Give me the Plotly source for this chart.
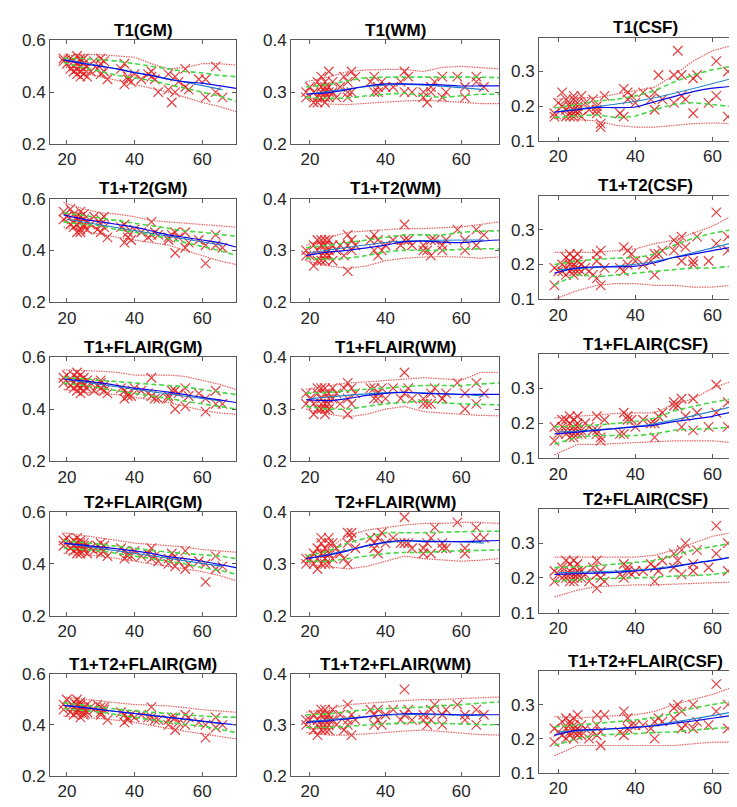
import plotly.graph_objects as go

# ---------------- data ----------------
AGES = [19, 19, 20, 21, 21, 22, 22, 22, 23, 23,
        23, 23, 24, 24, 24, 24, 24, 25, 25, 25,
        25, 26, 26, 27, 28, 29, 30, 30, 30, 31,
        31, 32, 36, 37, 37, 38, 38, 39, 40, 42,
        44, 45, 45, 46, 47, 50, 50, 51, 52, 52,
        53, 55, 55, 56, 59, 61, 61, 64, 64, 66]
GRID = [19, 25, 30, 35, 40, 45, 50, 55, 60, 65, 70]
FIT_X = [20, 43, 66]

TITLES = ["T1(GM)", "T1(WM)", "T1(CSF)",
          "T1+T2(GM)", "T1+T2(WM)", "T1+T2(CSF)",
          "T1+FLAIR(GM)", "T1+FLAIR(WM)", "T1+FLAIR(CSF)",
          "T2+FLAIR(GM)", "T2+FLAIR(WM)", "T2+FLAIR(CSF)",
          "T1+T2+FLAIR(GM)", "T1+T2+FLAIR(WM)", "T1+T2+FLAIR(CSF)"]

T1_GM = dict(
    pts=[0.53, 0.52, 0.51, 0.49, 0.53, 0.48, 0.50, 0.52, 0.47, 0.54,
         0.51, 0.49, 0.53, 0.46, 0.50, 0.52, 0.48, 0.47, 0.51, 0.49,
         0.53, 0.46, 0.50, 0.48, 0.52, 0.49, 0.47, 0.51, 0.53, 0.52,
         0.48, 0.45, 0.49, 0.43, 0.51, 0.46, 0.45, 0.44, 0.47, 0.45,
         0.47, 0.46, 0.48, 0.45, 0.40, 0.41, 0.47, 0.36, 0.40, 0.46,
         0.44, 0.42, 0.49, 0.41, 0.45, 0.38, 0.45, 0.40, 0.50, 0.38],
    mean=[.525, .51, .50, .49, .475, .465, .45, .44, .435, .425, .415],
    fit=[.525, .47, .41],
    gu=[.53, .53, .525, .52, .51, .50, .49, .48, .475, .465, .46],
    gl=[.515, .495, .48, .465, .455, .445, .43, .415, .40, .385, .365],
    ru=[.54, .545, .545, .54, .535, .51, .49, .495, .51, .51, .505],
    rl=[.50, .475, .46, .445, .43, .415, .40, .38, .36, .345, .325])

T1_WM = dict(
    pts=[0.30, 0.29, 0.31, 0.28, 0.30, 0.29, 0.32, 0.28, 0.31, 0.30,
         0.29, 0.33, 0.28, 0.31, 0.30, 0.32, 0.29, 0.34, 0.30, 0.31,
         0.29, 0.32, 0.30, 0.29, 0.31, 0.33, 0.29, 0.32, 0.30, 0.34,
         0.30, 0.33, 0.32, 0.30, 0.33, 0.31, 0.30, 0.32, 0.31, 0.31,
         0.32, 0.34, 0.30, 0.33, 0.30, 0.30, 0.29, 0.28, 0.31, 0.30,
         0.32, 0.33, 0.29, 0.30, 0.33, 0.31, 0.29, 0.32, 0.33, 0.31],
    mean=[.296, .299, .305, .312, .316, .316, .315, .314, .312, .312, .312],
    fit=[.297, .315, .305],
    gu=[.31, .315, .322, .328, .329, .329, .329, .329, .329, .329, .328],
    gl=[.29, .288, .289, .293, .296, .298, .293, .290, .293, .296, .296],
    ru=[.32, .33, .34, .343, .344, .344, .34, .348, .350, .348, .345],
    rl=[.29, .277, .276, .279, .281, .283, .284, .283, .280, .278, .278])

T1_CSF = dict(
    pts=[0.18, 0.17, 0.21, 0.20, 0.24, 0.19, 0.17, 0.22, 0.18, 0.21,
         0.17, 0.20, 0.19, 0.22, 0.18, 0.23, 0.17, 0.21, 0.19, 0.18,
         0.20, 0.23, 0.17, 0.21, 0.19, 0.22, 0.20, 0.18, 0.19, 0.14,
         0.15, 0.23, 0.18, 0.25, 0.17, 0.24, 0.22, 0.23, 0.21, 0.24,
         0.22, 0.19, 0.24, 0.29, 0.22, 0.29, 0.21, 0.36, 0.23, 0.29,
         0.22, 0.28, 0.18, 0.29, 0.21, 0.33, 0.23, 0.17, 0.30, 0.31],
    mean=[.183, .19, .197, .196, .198, .213, .228, .242, .252, .258, .273],
    fit=[.185, .22, .283],
    gu=[.195, .205, .215, .22, .23, .245, .27, .29, .305, .315, .325],
    gl=[.168, .172, .175, .168, .172, .19, .205, .21, .205, .20, .21],
    ru=[.22, .225, .225, .235, .245, .255, .29, .33, .36, .375, .385],
    rl=[.165, .16, .158, .145, .14, .14, .145, .15, .152, .15, .148])

T1T2_GM = dict(
    pts=[0.55, 0.52, 0.53, 0.50, 0.56, 0.51, 0.49, 0.54, 0.47, 0.53,
         0.50, 0.52, 0.55, 0.48, 0.51, 0.47, 0.53, 0.49, 0.52, 0.50,
         0.54, 0.48, 0.51, 0.50, 0.53, 0.48, 0.52, 0.47, 0.50, 0.53,
         0.49, 0.45, 0.49, 0.43, 0.50, 0.45, 0.47, 0.44, 0.48, 0.47,
         0.45, 0.51, 0.46, 0.47, 0.46, 0.44, 0.45, 0.46, 0.39, 0.47,
         0.45, 0.41, 0.47, 0.43, 0.44, 0.35, 0.42, 0.46, 0.42, 0.41],
    mean=[.537, .52, .51, .50, .49, .475, .46, .45, .44, .43, .413],
    fit=[.52, .47, .42],
    gu=[.545, .535, .525, .515, .505, .495, .485, .475, .47, .462, .455],
    gl=[.51, .50, .495, .48, .47, .46, .445, .43, .415, .40, .38],
    ru=[.585, .56, .545, .54, .53, .515, .51, .505, .50, .495, .49],
    rl=[.49, .475, .46, .45, .44, .43, .42, .40, .38, .36, .345])

T1T2_WM = dict(
    pts=[0.30, 0.29, 0.29, 0.27, 0.31, 0.28, 0.30, 0.32, 0.29, 0.31,
         0.28, 0.32, 0.29, 0.30, 0.28, 0.32, 0.31, 0.29, 0.32, 0.30,
         0.29, 0.31, 0.28, 0.30, 0.31, 0.29, 0.26, 0.31, 0.33, 0.32,
         0.30, 0.31, 0.32, 0.30, 0.33, 0.29, 0.32, 0.30, 0.31, 0.32,
         0.31, 0.35, 0.32, 0.32, 0.31, 0.30, 0.31, 0.30, 0.29, 0.32,
         0.32, 0.31, 0.30, 0.32, 0.34, 0.30, 0.32, 0.34, 0.31, 0.33],
    mean=[.29, .297, .30, .305, .31, .317, .318, .316, .315, .318, .32],
    fit=[.295, .317, .32],
    gu=[.305, .31, .315, .32, .325, .33, .33, .33, .335, .337, .338],
    gl=[.285, .283, .285, .29, .297, .30, .30, .30, .302, .303, .303],
    ru=[.31, .325, .335, .338, .34, .342, .342, .344, .345, .35, .355],
    rl=[.28, .27, .265, .27, .28, .285, .287, .288, .287, .285, .287])

T1T2_CSF = dict(
    pts=[0.19, 0.14, 0.18, 0.20, 0.18, 0.22, 0.17, 0.19, 0.21, 0.18,
         0.23, 0.20, 0.19, 0.17, 0.22, 0.18, 0.20, 0.23, 0.19, 0.18,
         0.21, 0.20, 0.18, 0.19, 0.18, 0.17, 0.23, 0.16, 0.21, 0.24,
         0.14, 0.19, 0.19, 0.25, 0.18, 0.24, 0.20, 0.23, 0.21, 0.20,
         0.21, 0.17, 0.23, 0.23, 0.24, 0.27, 0.24, 0.26, 0.21, 0.28,
         0.25, 0.21, 0.20, 0.28, 0.21, 0.35, 0.26, 0.24, 0.28, 0.21],
    mean=[.175, .19, .193, .193, .195, .205, .22, .23, .24, .25, .262],
    fit=[.185, .205, .265],
    gu=[.20, .21, .215, .218, .22, .23, .255, .275, .29, .30, .31],
    gl=[.14, .17, .165, .17, .175, .18, .185, .19, .19, .195, .20],
    ru=[.235, .235, .235, .24, .245, .26, .27, .29, .31, .34, .36],
    rl=[.10, .125, .14, .145, .145, .14, .14, .135, .135, .14, .135])

T1FL_GM = dict(
    pts=[0.52, 0.50, 0.53, 0.49, 0.51, 0.53, 0.48, 0.50, 0.52, 0.47,
         0.54, 0.49, 0.51, 0.46, 0.50, 0.53, 0.48, 0.52, 0.47, 0.50,
         0.49, 0.51, 0.48, 0.50, 0.47, 0.49, 0.51, 0.50, 0.48, 0.49,
         0.47, 0.46, 0.48, 0.44, 0.47, 0.45, 0.46, 0.45, 0.48, 0.47,
         0.46, 0.52, 0.45, 0.44, 0.44, 0.44, 0.45, 0.47, 0.40, 0.47,
         0.46, 0.41, 0.48, 0.45, 0.46, 0.39, 0.44, 0.42, 0.47, 0.42],
    mean=[.515, .508, .50, .49, .48, .473, .465, .455, .445, .435, .425],
    fit=[.512, .47, .43],
    gu=[.522, .515, .51, .505, .50, .495, .49, .485, .475, .465, .455],
    gl=[.50, .49, .48, .47, .46, .45, .44, .43, .42, .41, .40],
    ru=[.55, .548, .545, .54, .53, .53, .53, .525, .51, .495, .475],
    rl=[.475, .465, .46, .455, .445, .435, .425, .41, .395, .385, .38])

T1FL_WM = dict(
    pts=[0.33, 0.31, 0.32, 0.29, 0.31, 0.33, 0.30, 0.34, 0.31, 0.32,
         0.30, 0.34, 0.33, 0.30, 0.31, 0.29, 0.34, 0.32, 0.30, 0.33,
         0.31, 0.34, 0.32, 0.33, 0.31, 0.34, 0.29, 0.35, 0.32, 0.34,
         0.31, 0.33, 0.34, 0.32, 0.34, 0.33, 0.32, 0.34, 0.32, 0.34,
         0.32, 0.37, 0.33, 0.34, 0.32, 0.31, 0.32, 0.31, 0.33, 0.31,
         0.34, 0.32, 0.32, 0.33, 0.35, 0.30, 0.33, 0.35, 0.31, 0.33],
    mean=[.318, .316, .32, .326, .33, .332, .33, .329, .328, .328, .328],
    fit=[.32, .332, .325],
    gu=[.33, .332, .335, .338, .34, .343, .345, .345, .345, .348, .35],
    gl=[.305, .30, .30, .305, .31, .313, .315, .312, .31, .309, .308],
    ru=[.338, .345, .35, .352, .355, .358, .36, .358, .355, .37, .37],
    rl=[.30, .29, .285, .29, .30, .305, .295, .292, .29, .288, .287])

T1FL_CSF = dict(
    pts=[0.19, 0.15, 0.17, 0.21, 0.19, 0.17, 0.21, 0.18, 0.16, 0.20,
         0.18, 0.22, 0.17, 0.19, 0.16, 0.21, 0.18, 0.17, 0.20, 0.22,
         0.19, 0.18, 0.17, 0.20, 0.19, 0.18, 0.22, 0.17, 0.18, 0.15,
         0.16, 0.21, 0.17, 0.23, 0.17, 0.21, 0.22, 0.21, 0.19, 0.21,
         0.20, 0.16, 0.20, 0.22, 0.23, 0.25, 0.26, 0.25, 0.19, 0.27,
         0.22, 0.18, 0.27, 0.23, 0.19, 0.31, 0.23, 0.19, 0.26, 0.25],
    mean=[.17, .175, .18, .185, .19, .195, .205, .212, .22, .232, .245],
    fit=[.175, .195, .25],
    gu=[.19, .192, .195, .20, .205, .215, .235, .248, .26, .27, .28],
    gl=[.14, .16, .165, .165, .165, .17, .18, .183, .185, .19, .20],
    ru=[.215, .22, .225, .228, .23, .23, .255, .27, .30, .32, .325],
    rl=[.11, .14, .14, .143, .145, .148, .15, .15, .15, .145, .16])

T2FL_GM = dict(
    pts=[0.49, 0.47, 0.50, 0.46, 0.48, 0.45, 0.49, 0.47, 0.44, 0.48,
         0.46, 0.50, 0.47, 0.45, 0.48, 0.44, 0.49, 0.46, 0.47, 0.45,
         0.48, 0.44, 0.47, 0.46, 0.45, 0.47, 0.44, 0.46, 0.48, 0.45,
         0.47, 0.43, 0.46, 0.42, 0.45, 0.43, 0.44, 0.43, 0.45, 0.43,
         0.44, 0.46, 0.42, 0.43, 0.41, 0.42, 0.40, 0.44, 0.39, 0.43,
         0.41, 0.38, 0.45, 0.40, 0.41, 0.33, 0.40, 0.38, 0.43, 0.39],
    mean=[.48, .472, .465, .458, .45, .44, .428, .42, .41, .398, .385],
    fit=[.478, .435, .39],
    gu=[.49, .482, .475, .468, .46, .452, .445, .44, .435, .43, .42],
    gl=[.46, .455, .45, .44, .43, .42, .41, .40, .385, .375, .36],
    ru=[.52, .51, .50, .49, .48, .475, .47, .465, .455, .45, .445],
    rl=[.44, .435, .43, .42, .41, .40, .39, .38, .37, .355, .335])

T2FL_WM = dict(
    pts=[0.31, 0.30, 0.31, 0.32, 0.30, 0.33, 0.31, 0.29, 0.32, 0.34,
         0.30, 0.35, 0.31, 0.33, 0.30, 0.32, 0.31, 0.34, 0.30, 0.35,
         0.32, 0.31, 0.34, 0.33, 0.32, 0.31, 0.36, 0.34, 0.30, 0.36,
         0.35, 0.33, 0.35, 0.33, 0.34, 0.35, 0.32, 0.36, 0.34, 0.35,
         0.34, 0.39, 0.34, 0.34, 0.33, 0.33, 0.32, 0.34, 0.35, 0.32,
         0.37, 0.33, 0.34, 0.33, 0.38, 0.33, 0.32, 0.37, 0.35, 0.35],
    mean=[.31, .317, .325, .335, .342, .345, .343, .343, .343, .344, .345],
    fit=[.31, .343, .34],
    gu=[.315, .325, .34, .35, .36, .36, .36, .361, .362, .363, .363],
    gl=[.305, .305, .31, .315, .32, .322, .322, .324, .325, .326, .327],
    ru=[.315, .33, .355, .365, .37, .375, .378, .378, .38, .38, .378],
    rl=[.30, .295, .29, .295, .305, .315, .31, .308, .305, .307, .31])

T2FL_CSF = dict(
    pts=[0.22, 0.19, 0.21, 0.20, 0.23, 0.21, 0.25, 0.20, 0.22, 0.19,
         0.24, 0.21, 0.20, 0.23, 0.21, 0.19, 0.25, 0.22, 0.20, 0.21,
         0.24, 0.20, 0.22, 0.21, 0.19, 0.23, 0.25, 0.17, 0.21, 0.20,
         0.22, 0.19, 0.21, 0.24, 0.20, 0.23, 0.22, 0.21, 0.22, 0.22,
         0.24, 0.19, 0.23, 0.22, 0.25, 0.27, 0.23, 0.25, 0.28, 0.21,
         0.30, 0.24, 0.22, 0.28, 0.23, 0.35, 0.27, 0.22, 0.30, 0.27],
    mean=[.21, .212, .214, .216, .22, .225, .232, .242, .25, .26, .27],
    fit=[.215, .225, .262],
    gu=[.23, .232, .235, .24, .245, .25, .265, .28, .29, .30, .31],
    gl=[.19, .195, .197, .199, .20, .202, .205, .207, .21, .218, .225],
    ru=[.26, .26, .26, .26, .26, .265, .28, .30, .32, .33, .34],
    rl=[.145, .165, .175, .178, .18, .18, .182, .185, .185, .188, .19])

ALL_GM = dict(
    pts=[0.48, 0.46, 0.50, 0.47, 0.45, 0.49, 0.47, 0.44, 0.48, 0.46,
         0.50, 0.45, 0.47, 0.43, 0.49, 0.46, 0.48, 0.45, 0.47, 0.44,
         0.46, 0.48, 0.45, 0.47, 0.46, 0.48, 0.45, 0.44, 0.47, 0.46,
         0.47, 0.42, 0.45, 0.41, 0.44, 0.43, 0.42, 0.44, 0.43, 0.44,
         0.43, 0.47, 0.43, 0.42, 0.42, 0.40, 0.42, 0.43, 0.38, 0.43,
         0.41, 0.44, 0.40, 0.43, 0.41, 0.35, 0.40, 0.39, 0.43, 0.40],
    mean=[.477, .468, .46, .452, .445, .438, .43, .423, .415, .407, .40],
    fit=[.477, .44, .405],
    gu=[.487, .478, .47, .462, .455, .45, .445, .44, .435, .432, .43],
    gl=[.465, .457, .45, .44, .43, .42, .41, .402, .395, .383, .37],
    ru=[.51, .502, .495, .488, .48, .478, .475, .468, .46, .455, .45],
    rl=[.435, .43, .425, .418, .41, .398, .385, .375, .365, .355, .345])

ALL_WM = dict(
    pts=[0.30, 0.31, 0.31, 0.29, 0.32, 0.30, 0.28, 0.31, 0.32, 0.29,
         0.33, 0.30, 0.31, 0.29, 0.32, 0.30, 0.33, 0.31, 0.29, 0.32,
         0.30, 0.31, 0.33, 0.30, 0.32, 0.29, 0.31, 0.34, 0.30, 0.32,
         0.28, 0.31, 0.33, 0.30, 0.32, 0.31, 0.33, 0.30, 0.32, 0.33,
         0.31, 0.37, 0.32, 0.33, 0.31, 0.31, 0.32, 0.30, 0.33, 0.31,
         0.34, 0.32, 0.30, 0.33, 0.34, 0.31, 0.32, 0.33, 0.30, 0.32],
    mean=[.305, .308, .312, .316, .32, .322, .322, .321, .32, .32, .32],
    fit=[.307, .32, .318],
    gu=[.32, .322, .326, .33, .332, .334, .335, .338, .34, .343, .345],
    gl=[.295, .295, .297, .30, .302, .304, .305, .303, .302, .301, .30],
    ru=[.325, .332, .34, .343, .345, .348, .35, .35, .352, .354, .355],
    rl=[.285, .28, .28, .282, .285, .288, .29, .287, .284, .281, .28])

ALL_CSF = dict(
    pts=[0.23, 0.19, 0.22, 0.25, 0.21, 0.23, 0.26, 0.20, 0.24, 0.22,
         0.21, 0.25, 0.23, 0.20, 0.26, 0.22, 0.24, 0.21, 0.23, 0.27,
         0.22, 0.24, 0.21, 0.23, 0.20, 0.22, 0.27, 0.21, 0.24, 0.18,
         0.22, 0.27, 0.22, 0.28, 0.21, 0.26, 0.23, 0.24, 0.24, 0.24,
         0.23, 0.20, 0.25, 0.26, 0.25, 0.29, 0.26, 0.30, 0.23, 0.28,
         0.24, 0.30, 0.23, 0.25, 0.24, 0.36, 0.28, 0.23, 0.30, 0.27],
    mean=[.21, .225, .227, .23, .233, .238, .245, .252, .26, .268, .275],
    fit=[.22, .237, .28],
    gu=[.235, .24, .245, .25, .255, .262, .275, .29, .30, .31, .32],
    gl=[.18, .20, .21, .213, .215, .218, .22, .225, .23, .233, .235],
    ru=[.265, .26, .265, .268, .27, .28, .30, .315, .33, .35, .36],
    rl=[.15, .18, .18, .18, .18, .18, .18, .185, .19, .19, .19])

PANELS = [T1_GM, T1_WM, T1_CSF,
          T1T2_GM, T1T2_WM, T1T2_CSF,
          T1FL_GM, T1FL_WM, T1FL_CSF,
          T2FL_GM, T2FL_WM, T2FL_CSF,
          ALL_GM, ALL_WM, ALL_CSF]

Y_RANGES = [[0.2, 0.6], [0.2, 0.4], [0.1, 0.398]]
Y_TICKS = [[0.2, 0.4, 0.6], [0.2, 0.3, 0.4], [0.1, 0.2, 0.3]]
X_TICKS = [20, 40, 60]

# ---------------- layout geometry (pixels) ----------------
W, H = 737, 807
ROW_TOP = [24, 186, 348, 507, 673]
ROW_BOT = [130, 292, 455, 613, 777]
COL_L = [42, 283, 531]
COL_R = [228, 491, 743]   # third column runs past the page edge
COL_DY = [0, 0, -3]

FONT = "Liberation Sans, Arial, sans-serif"
AX_COL = "#5a5a5a"

fig = go.Figure()
layout = dict(width=W, height=H, margin=dict(l=0, r=0, t=0, b=0),
              paper_bgcolor="white", plot_bgcolor="white", showlegend=False,
              font=dict(family=FONT, size=17, color="#262626"))
annotations = []

for k, p in enumerate(PANELS):
    r, c = divmod(k, 3)
    n = "" if k == 0 else str(k + 1)
    xa, ya = "x" + n, "y" + n
    top = ROW_TOP[r] + COL_DY[c]
    bot = ROW_BOT[r] + COL_DY[c]
    left = COL_L[c]
    right = min(COL_R[c], W)
    full_w = COL_R[c] - COL_L[c]
    xmax = 15 + 55 * (right - left) / full_w

    layout["xaxis" + n] = dict(
        domain=[left / W, right / W], anchor=ya, range=[15, xmax],
        tickvals=X_TICKS, ticks="inside", ticklen=4, tickcolor=AX_COL,
        showline=True, linecolor=AX_COL, linewidth=1, mirror="ticks",
        showgrid=False, zeroline=False, tickfont=dict(size=17))
    layout["yaxis" + n] = dict(
        domain=[1 - bot / H, 1 - top / H], anchor=xa, range=Y_RANGES[c],
        tickvals=Y_TICKS[c], ticks="inside", ticklen=4, tickcolor=AX_COL,
        showline=True, linecolor=AX_COL, linewidth=1,
        mirror=("ticks" if c < 2 else False),
        showgrid=False, zeroline=False, tickfont=dict(size=17))

    fig.add_trace(go.Scatter(x=AGES, y=p["pts"], mode="markers", xaxis=xa, yaxis=ya,
                             marker=dict(symbol="x-thin", size=9.5,
                                         line=dict(width=1.2, color="rgba(225,30,30,0.85)"))))
    for key in ("ru", "rl"):
        fig.add_trace(go.Scatter(x=GRID, y=p[key], mode="lines", xaxis=xa, yaxis=ya,
                                 line=dict(color="rgba(230,80,80,0.9)", width=1.2,
                                           dash="1.5px,1px")))
    for key in ("gu", "gl"):
        fig.add_trace(go.Scatter(x=GRID, y=p[key], mode="lines", xaxis=xa, yaxis=ya,
                                 line=dict(color="rgb(70,215,70)", width=1.6,
                                           dash="5px,3px", shape="spline", smoothing=0.6)))
    fig.add_trace(go.Scatter(x=FIT_X, y=p["fit"], mode="lines", xaxis=xa, yaxis=ya,
                             line=dict(color="rgb(30,130,200)", width=1.1,
                                       shape="spline", smoothing=0.8)))
    fig.add_trace(go.Scatter(x=GRID, y=p["mean"], mode="lines", xaxis=xa, yaxis=ya,
                             line=dict(color="rgb(10,10,230)", width=1.2,
                                       shape="spline", smoothing=0.6)))

    annotations.append(dict(
        text="<b>" + TITLES[k] + "</b>", xref="paper", yref="paper",
        x=(COL_L[c] + COL_R[c]) / 2 / W, y=1 - (top - 10) / H,
        xanchor="center", yanchor="middle", showarrow=False,
        font=dict(size=17, family=FONT, color="#000000")))

layout["annotations"] = annotations
fig.update_layout(**layout)
fig.write_html("out.html")
